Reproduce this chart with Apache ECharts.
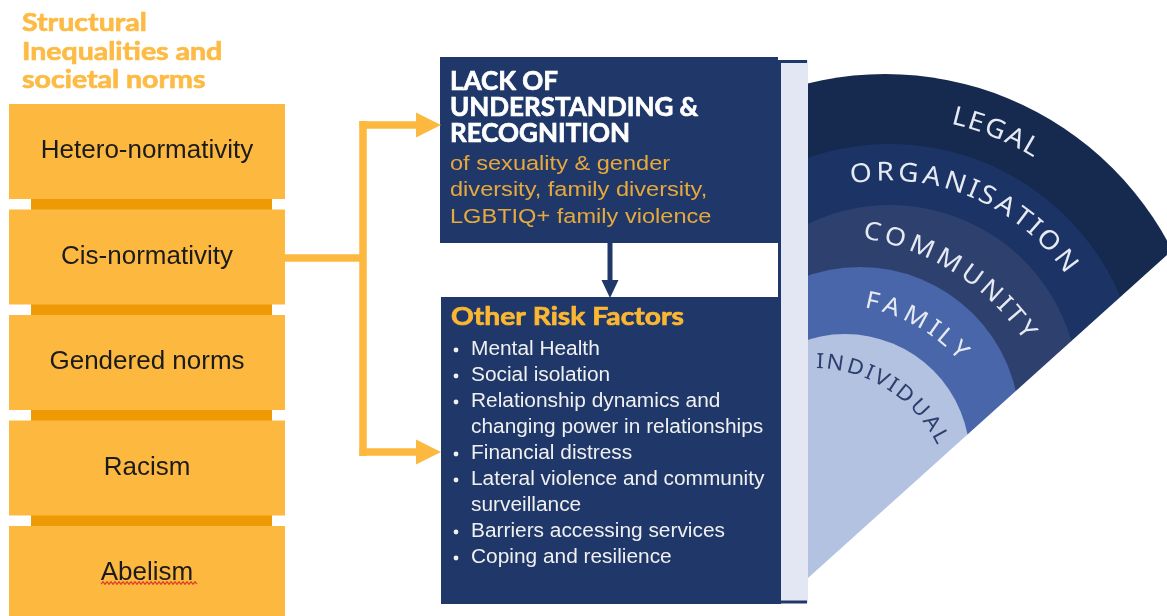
<!DOCTYPE html>
<html>
<head>
<meta charset="utf-8">
<style>
  html, body { margin: 0; padding: 0; background: #fff; }
  #chart { width: 1167px; height: 616px; }
</style>
<script src="https://cdn.jsdelivr.net/npm/echarts@6/dist/echarts.min.js"></script>
</head>
<body>
<div id="chart"></div>
<script>
// ---- content ----
const headingLines = ['Structural', 'Inequalities and', 'societal norms'];
const normLabels = ['Hetero-normativity', 'Cis-normativity', 'Gendered norms', 'Racism', 'Abelism'];
const lackTitle = ['LACK OF', 'UNDERSTANDING &', 'RECOGNITION'];
const lackSub = ['of sexuality & gender', 'diversity, family diversity,', 'LGBTIQ+ family violence'];
const riskTitle = 'Other Risk Factors';
const riskItems = [
  ['Mental Health'],
  ['Social isolation'],
  ['Relationship dynamics and', 'changing power in relationships'],
  ['Financial distress'],
  ['Lateral violence and community', 'surveillance'],
  ['Barriers accessing services'],
  ['Coping and resilience']
];
const levels = ['LEGAL', 'ORGANISATION', 'COMMUNITY', 'FAMILY', 'INDIVIDUAL'];
const levelWeight = [1, 1, 1, 1, 1];

(function () {
  const NAVY = '#1F3869';
  const ORANGE = '#FDB840';
  const ORANGE_DARK = '#EE9A05';
  const HEAD_ORANGE = '#FDBB45';
  const SUB_ORANGE = '#E8A93C';
  const TEXT_LIGHT = '#F0F0F0';

  // ring geometry (center, radius) and colours, outermost first
  const ringGeom = [
    { c: [885, 396], r: 322, color: '#16294F' },
    { c: [890, 394], r: 250, color: '#1B3465' },
    { c: [890, 394], r: 189, color: '#2E416E' },
    { c: [860, 427], r: 160, color: '#4866A9' },
    { c: [845, 459], r: 125, color: '#B3C2E0' }
  ];
  // curved label paths: center, radius, start/end angle (deg), font size, colour
  const labelArcs = [
    { c: [888, 395], r: 286, a0: 75.5, a1: 60, fs: 26, color: '#E6EAF3' },
    { c: [888, 395], r: 222, a0: 97, a1: 37, fs: 26, color: '#E6EAF3' },
    { c: [825, 476], r: 248, a0: 79, a1: 36, fs: 25, color: '#E6EAF3' },
    { c: [835, 470], r: 172, a0: 77.5, a1: 44, fs: 24, color: '#E6EAF3' },
    { c: [814, 505], r: 143, a0: 87.6, a1: 28.4, fs: 21, color: '#2B3F6E' }
  ];

  const measure = document.createElement('canvas').getContext('2d');
  const els = [];

  const text = (str, x, y, opt) => {
    els.push({
      type: 'text', x, y, z: 30, silent: true, scaleX: opt.sx || 1,
      style: Object.assign({
        text: str, fill: '#000', align: 'left', verticalAlign: 'middle',
        fontFamily: 'Liberation Sans', fontSize: 20
      }, opt.style)
    });
  };
  const heavy = (color, size) => ({ fill: color, stroke: color, lineWidth: 0.7, fontFamily: 'Lato', fontWeight: 'bold', fontSize: size });

  // heading
  headingLines.forEach((line, i) => {
    text(line, 22, 23 + i * 28.5, { sx: 1.14, style: heavy(HEAD_ORANGE, 25) });
  });

  // stacked norm boxes
  const boxTop = 104, boxPitch = 105.5, boxH = 95;
  normLabels.forEach((label, i) => {
    const top = boxTop + i * boxPitch;
    if (i < normLabels.length - 1) {
      els.push({ type: 'rect', z: 18, silent: true, shape: { x: 31, y: top + boxH - 1, width: 241, height: boxPitch - boxH + 2 }, style: { fill: ORANGE_DARK } });
    }
    els.push({ type: 'rect', z: 19, silent: true, shape: { x: 9, y: top, width: 276, height: boxH }, style: { fill: ORANGE } });
    text(label, 147, top + boxH / 2, { sx: 1.04, style: { align: 'center', fill: '#1B1B1B', fontSize: 25 } });
  });
  // spell-check squiggle under the last label
  const sq = [];
  for (let x = 101, k = 0; x <= 197; x += 2, k++) sq.push([x, 583 + (k % 2 ? -1.2 : 1.2)]);
  els.push({ type: 'polyline', z: 31, silent: true, shape: { points: sq }, style: { stroke: '#E0402A', lineWidth: 1.2, fill: null } });

  // orange connectors
  const lw = 7.5;
  const orangeLine = (pts) => els.push({ type: 'polyline', z: 21, silent: true, shape: { points: pts }, style: { stroke: ORANGE, lineWidth: lw, fill: null } });
  orangeLine([[285, 258], [363, 258]]);
  orangeLine([[363, 121], [363, 456]]);
  orangeLine([[359.5, 125], [418, 125]]);
  orangeLine([[359.5, 452], [418, 452]]);
  [125, 452].forEach((y) => {
    els.push({ type: 'polygon', z: 21, silent: true, shape: { points: [[416, y - 12.5], [441, y], [416, y + 12.5]] }, style: { fill: ORANGE } });
  });

  // fan masks (keep the rings only right of the column and above the diagonal)
  els.push({ type: 'polygon', z: 10, silent: true, shape: { points: [[808, 578], [1200, 578 - 0.9 * 392], [1200, 640], [808, 640]] }, style: { fill: '#fff' } });
  els.push({ type: 'rect', z: 10, silent: true, shape: { x: 540, y: 0, width: 268, height: 616 }, style: { fill: '#fff' } });

  // light column beside the boxes
  els.push({ type: 'rect', z: 15, silent: true, shape: { x: 778, y: 60, width: 30, height: 543 }, style: { fill: '#E3E7F3' } });
  [[[778, 61.5], [807, 61.5]], [[778, 602], [807, 602]], [[779.5, 60], [779.5, 604]]].forEach((pts) => {
    els.push({ type: 'polyline', z: 16, silent: true, shape: { points: pts }, style: { stroke: NAVY, lineWidth: 3, fill: null } });
  });

  // navy boxes
  els.push({ type: 'rect', z: 20, silent: true, shape: { x: 440, y: 57, width: 338, height: 186 }, style: { fill: NAVY } });
  els.push({ type: 'rect', z: 20, silent: true, shape: { x: 441, y: 297, width: 338, height: 307 }, style: { fill: NAVY } });
  // navy arrow
  els.push({ type: 'polyline', z: 21, silent: true, shape: { points: [[610, 243], [610, 283]] }, style: { stroke: NAVY, lineWidth: 5, fill: null } });
  els.push({ type: 'polygon', z: 21, silent: true, shape: { points: [[601.5, 280], [618.5, 280], [610, 298]] }, style: { fill: NAVY } });

  lackTitle.forEach((line, i) => {
    text(line, 450, 81.5 + i * 26.3, { style: heavy('#FFFFFF', 26) });
  });
  lackSub.forEach((line, i) => {
    text(line, 450, 164 + i * 26.7, { sx: 1.15, style: { fill: SUB_ORANGE, fontSize: 20.5 } });
  });

  text(riskTitle, 451, 317, { sx: 1.13, style: heavy('#FBB731', 25) });
  let row = 0;
  riskItems.forEach((item) => {
    item.forEach((line, j) => {
      const y = 350 + row * 26;
      if (j === 0) els.push({ type: 'circle', z: 30, silent: true, shape: { cx: 456, cy: y, r: 2.4 }, style: { fill: TEXT_LIGHT } });
      text(line, 471, y, { sx: 1.07, style: { fill: TEXT_LIGHT, fontSize: 19.5 } });
      row++;
    });
  });

  // curved level names
  levels.forEach((word, i) => {
    const arc = labelArcs[i];
    measure.font = arc.fs + 'px "Noto Sans"';
    const chars = word.split('');
    let acc = 0;
    const mids = chars.map((ch) => { const w = measure.measureText(ch).width; const m = acc + w / 2; acc += w; return m; });
    const first = mids[0], last = mids[mids.length - 1];
    chars.forEach((ch, k) => {
      const t = (mids[k] - first) / (last - first);
      const a = (arc.a0 + (arc.a1 - arc.a0) * t) * Math.PI / 180;
      els.push({
        type: 'text', z: 30, silent: true,
        x: arc.c[0] + arc.r * Math.cos(a), y: arc.c[1] - arc.r * Math.sin(a),
        rotation: a - Math.PI / 2, scaleX: 1.08,
        style: { text: ch, fill: arc.color, fontFamily: 'Noto Sans', fontSize: arc.fs, align: 'center', verticalAlign: 'middle' }
      });
    });
  });

  const series = levels.map((name, i) => ({
    type: 'pie',
    silent: true,
    animation: false,
    z: 2 + i,
    center: ringGeom[i].c,
    radius: [0, ringGeom[i].r],
    label: { show: false },
    labelLine: { show: false },
    itemStyle: { color: ringGeom[i].color, borderWidth: 0 },
    data: [{ name, value: levelWeight[i] }]
  }));

  const chart = echarts.init(document.getElementById('chart'));
  chart.setOption({
    animation: false,
    series,
    graphic: { elements: els }
  });
})();
</script>
</body>
</html>
